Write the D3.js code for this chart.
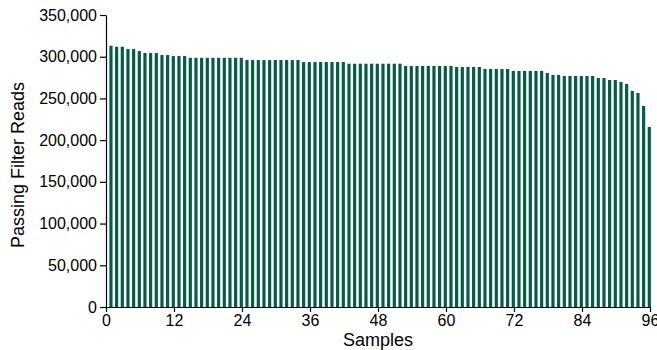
<!DOCTYPE html>
<html>
<head>
<meta charset="utf-8">
<script src="https://cdn.jsdelivr.net/npm/d3@7"></script>
<style>
  html, body { margin: 0; padding: 0; background: #fff; }
  svg { display: block; }
  text { font-family: "Liberation Sans", Arial, Helvetica, sans-serif; fill: #000; }
</style>
</head>
<body>
<svg id="chart" width="657" height="350"></svg>
<script>
// Samples 1..96, passing filter reads (thousands)
const samples = d3.range(1, 97);
const readsK = [
  313.2, 312.0, 312.0, 309.2, 309.2, 306.8, 304.4, 304.4, 304.4, 302.0,
  302.0, 300.8, 300.8, 300.8, 298.7, 298.7, 298.7, 298.7, 298.7, 298.7,
  298.7, 298.7, 298.7, 298.7, 296.0, 296.0, 296.0, 296.0, 296.0, 296.0,
  296.0, 296.0, 296.0, 296.0, 293.6, 293.6, 293.6, 293.6, 293.6, 293.6,
  293.6, 293.6, 291.6, 291.6, 291.6, 291.6, 291.6, 291.6, 291.6, 291.6,
  291.6, 291.6, 288.9, 288.9, 288.9, 288.9, 288.9, 288.9, 288.9, 288.9,
  288.9, 287.7, 287.7, 287.7, 287.7, 287.7, 285.3, 285.3, 285.3, 285.3,
  285.3, 282.9, 282.9, 282.9, 282.9, 282.9, 282.9, 280.5, 278.1, 278.1,
  276.9, 276.9, 276.9, 276.9, 276.9, 276.9, 274.5, 274.5, 272.1, 272.1,
  269.7, 267.3, 258.9, 256.5, 240.9, 215.7
];
const reads = readsK.map(v => v * 1000);
const xTicks = [0, 12, 24, 36, 48, 60, 72, 84, 96];
const yTicks = [0, 50000, 100000, 150000, 200000, 250000, 300000, 350000];
const xTitle = "Samples";
const yTitle = "Passing Filter Reads";
const barColor = "#035c48";

const svg = d3.select("#chart");
const mLeft = 106, mRight = 650, mTop = 15, mBottom = 307;

const x = d3.scaleLinear().domain([0, 96]).range([mLeft, mRight]);
const y = d3.scaleLinear().domain([0, 350000]).range([mBottom, mTop]);
const step = x(1) - x(0);
const bw = step * 0.56;

svg.append("g").selectAll("rect")
  .data(samples)
  .join("rect")
  .attr("x", (d) => x(d) - 0.7 - bw / 2)
  .attr("y", (d, i) => y(reads[i]))
  .attr("width", bw)
  .attr("height", (d, i) => y(0) - y(reads[i]))
  .attr("fill", barColor);

const fmt = d3.format(",");

const yAxis = svg.append("g")
  .attr("transform", `translate(${mLeft},0)`)
  .call(d3.axisLeft(y).tickValues(yTicks).tickFormat(fmt).tickSize(6).tickSizeOuter(0).tickPadding(3));
yAxis.selectAll("text").style("font-size", "16px");
yAxis.selectAll("line, path").attr("stroke", "#000").attr("stroke-width", 1.2);

const xAxis = svg.append("g")
  .attr("transform", `translate(0,${mBottom})`)
  .call(d3.axisBottom(x).tickValues(xTicks).tickFormat(d3.format("d")).tickSize(5).tickSizeOuter(0).tickPadding(3));
xAxis.selectAll("text").style("font-size", "16px");
xAxis.selectAll("line, path").attr("stroke", "#000").attr("stroke-width", 1.2);

svg.append("text")
  .attr("x", 378)
  .attr("y", 346)
  .attr("text-anchor", "middle")
  .style("font-size", "18px")
  .text(xTitle);

svg.append("text")
  .attr("transform", `translate(24,${(mTop + mBottom) / 2 + 4}) rotate(-90)`)
  .attr("text-anchor", "middle")
  .style("font-size", "18px")
  .text(yTitle);
</script>
</body>
</html>
